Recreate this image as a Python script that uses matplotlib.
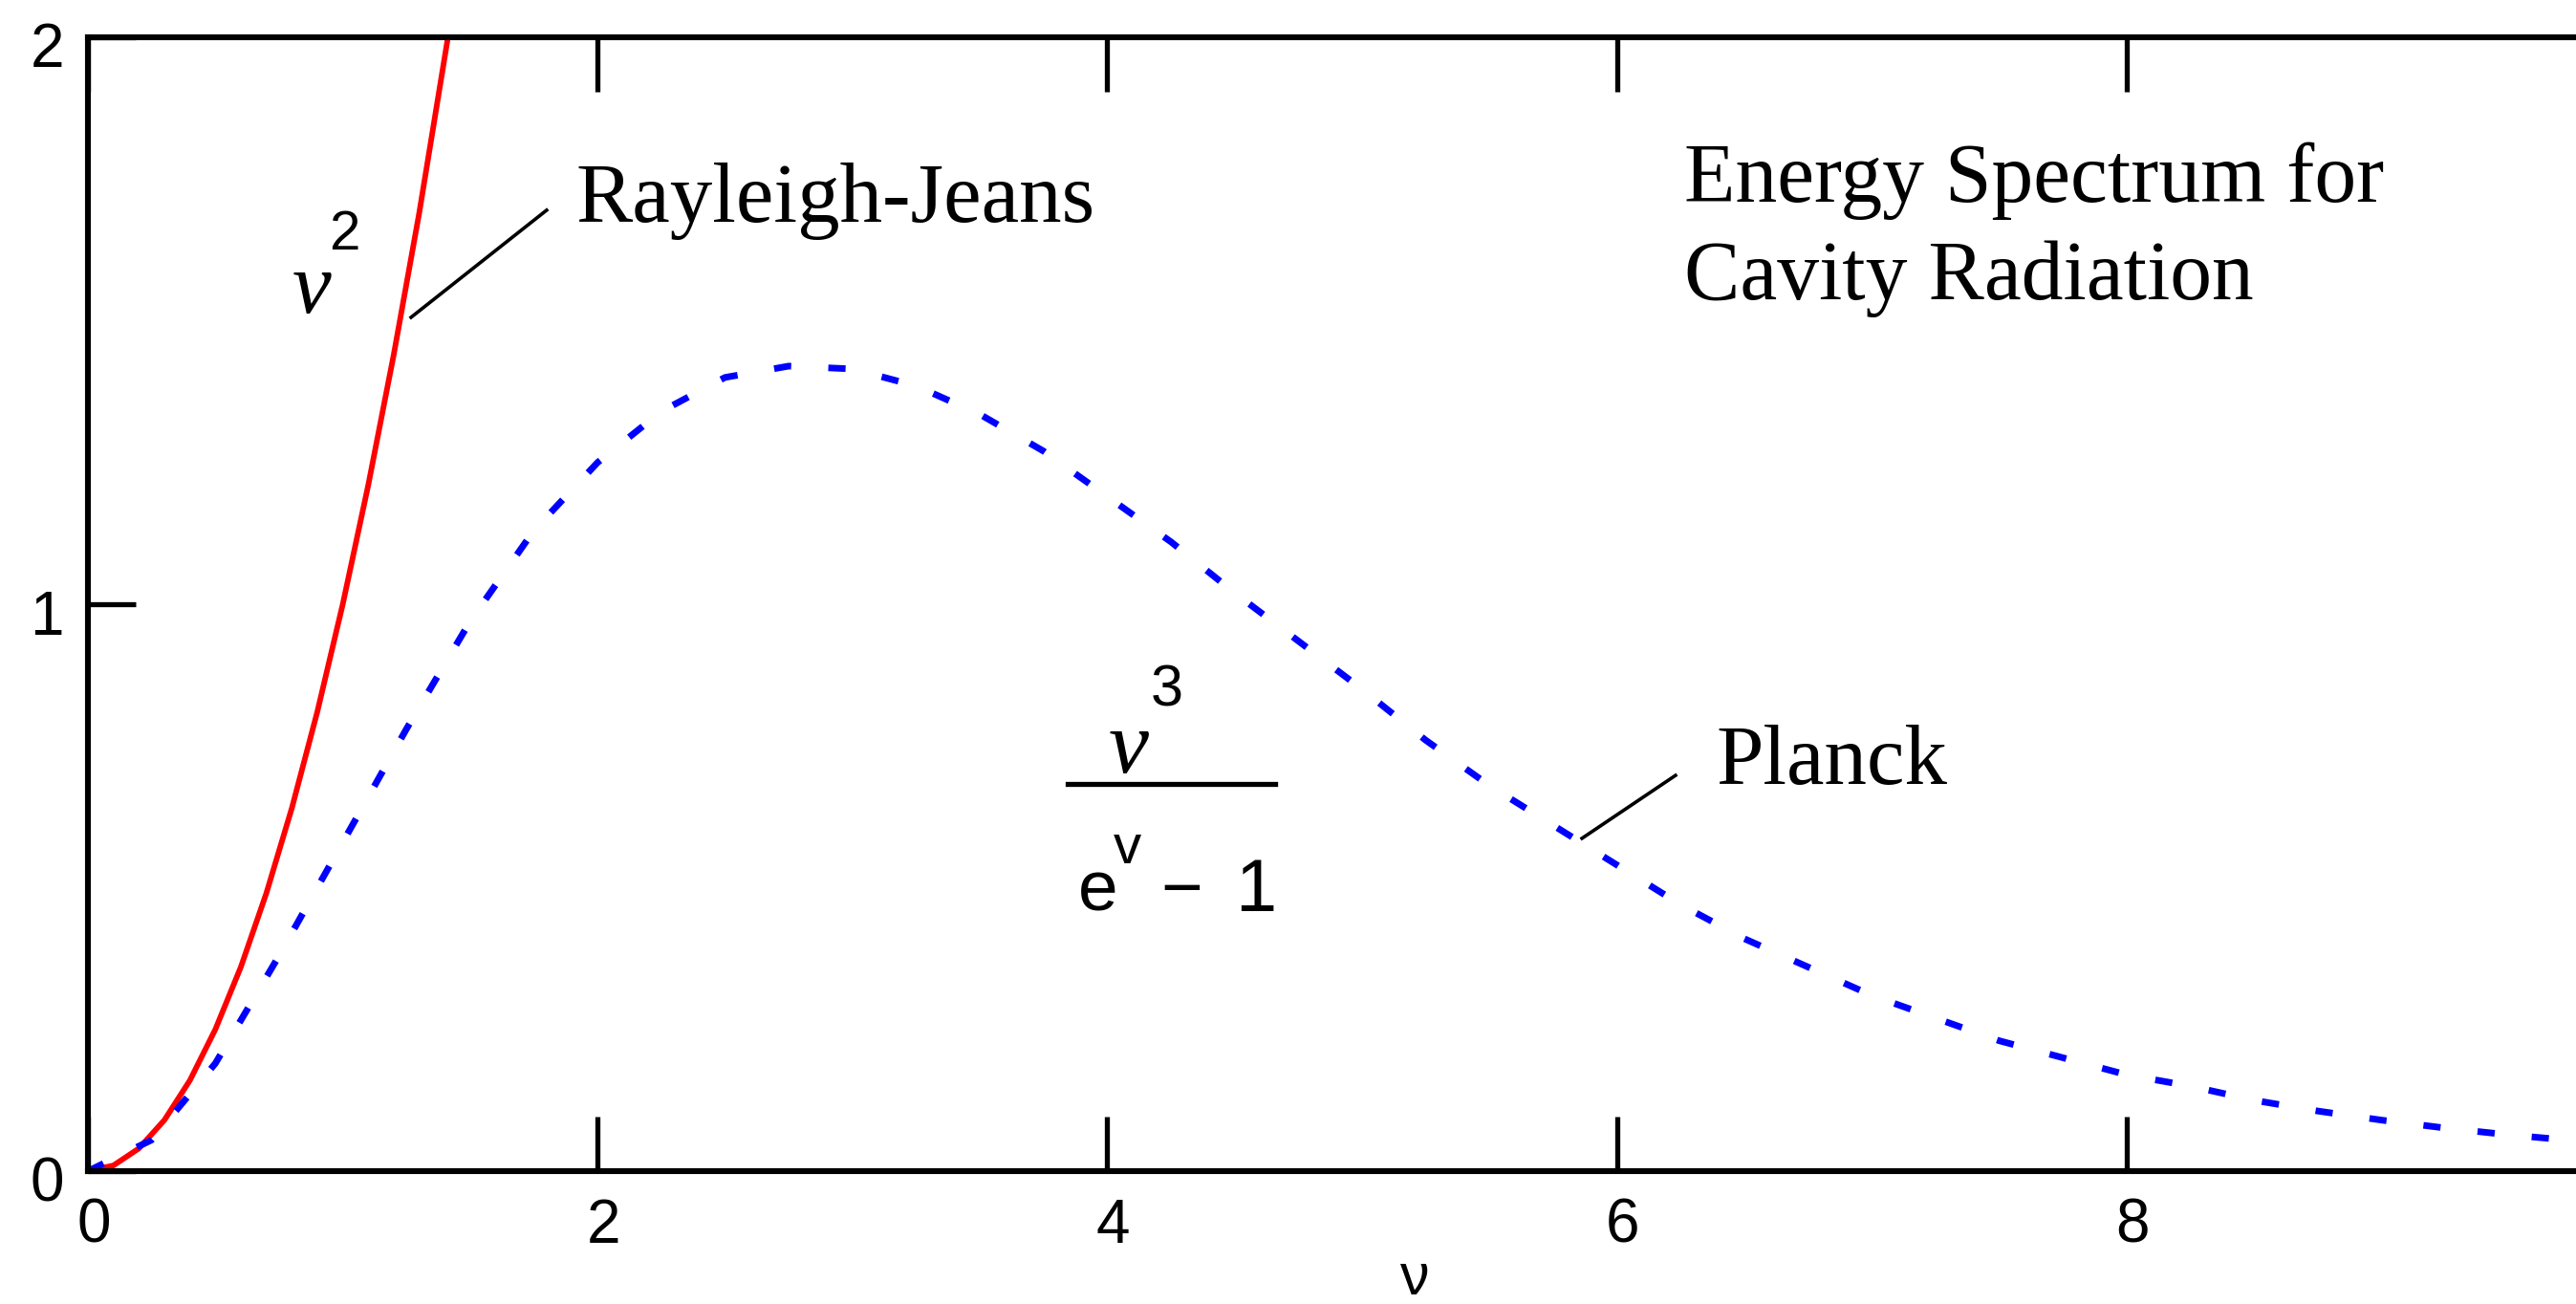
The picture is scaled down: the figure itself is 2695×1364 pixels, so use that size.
import numpy as np
import matplotlib.pyplot as plt
from matplotlib.transforms import ScaledTranslation

# Rayleigh-Jeans curve (solid red)
nu_rj = [0.0, 0.1, 0.2, 0.3, 0.4, 0.5, 0.6, 0.7, 0.8, 0.9, 1.0, 1.1, 1.2, 1.3, 1.42]
u_rj = [0.0, 0.01, 0.04, 0.09, 0.16, 0.25, 0.36, 0.49, 0.64, 0.81, 1.0, 1.21, 1.44, 1.69, 2.02]

# Planck curve (dotted blue)
nu_pl = [0.0, 0.25, 0.5, 0.75, 1.0, 1.25, 1.5, 1.75, 2.0, 2.25, 2.5, 2.75, 3.0, 3.25,
         3.5, 3.75, 4.0, 4.25, 4.5, 4.75, 5.0, 5.25, 5.5, 5.75, 6.0, 6.25, 6.5, 6.75,
         7.0, 7.25, 7.5, 7.75, 8.0, 8.25, 8.5, 8.75, 9.0, 9.25, 9.5, 9.75, 10.0]
u_pl = [0.0, 0.055, 0.19, 0.38, 0.58, 0.78, 0.97, 1.13, 1.25, 1.34, 1.40, 1.42, 1.415, 1.385,
        1.335, 1.27, 1.19, 1.11, 1.02, 0.935, 0.85, 0.76, 0.68, 0.61, 0.54, 0.47, 0.41, 0.36,
        0.31, 0.27, 0.23, 0.20, 0.17, 0.15, 0.125, 0.106, 0.09, 0.076, 0.064, 0.054, 0.045]

xticks = [0, 2, 4, 6, 8]
yticks = [0, 1, 2]

W, H = 2695, 1364
fig = plt.figure(figsize=(W / 100, H / 100), dpi=100)
# axes run past the right edge of the figure (x = 10 is off-canvas)
ax = fig.add_axes([92 / W, 1 - 1225 / H, 2666 / W, (1225 - 39) / H])

ax.plot(nu_rj, u_rj, color='#ff0000', lw=4.2, solid_capstyle='butt')
ax.plot(nu_pl, u_pl, color='#0000ff', lw=5.0, dashes=(2.6, 5.6))

ax.set_xlim(0, 10)
ax.set_ylim(0, 2)

sans = 'Liberation Sans'
serif = 'Liberation Serif'

ax.set_xticks(xticks)
ax.set_xticklabels([str(t) for t in xticks], family=sans, fontsize=46)
ax.set_yticks(yticks)
ax.set_yticklabels([str(t) for t in yticks], family=sans, fontsize=46)
ax.tick_params(axis='x', direction='in', length=41, width=3.8, pad=20,
               top=True, bottom=True)
ax.tick_params(axis='y', direction='in', length=36, width=3.8, pad=18,
               left=True, right=False)
for s in ax.spines.values():
    s.set_linewidth(4.4)
    s.set_color('black')

# nudge tick labels a little (x right, y down)
for lab in ax.get_xticklabels():
    lab.set_transform(lab.get_transform() + ScaledTranslation(6 / 100, 0, fig.dpi_scale_trans))
for lab in ax.get_yticklabels():
    lab.set_transform(lab.get_transform() + ScaledTranslation(0, -8 / 100, fig.dpi_scale_trans))

# labels and leaders
ax.text(1.913, 1.675, 'Rayleigh-Jeans', family=serif, fontsize=64, va='baseline')
ax.plot([1.268, 1.80], [1.506, 1.695], color='black', lw=2.6)
ax.text(0.80, 1.514, 'ν', family=serif, style='italic', fontsize=66, va='baseline')
ax.text(0.945, 1.626, '2', family=sans, fontsize=42, va='baseline')

ax.text(6.39, 0.683, 'Planck', family=serif, fontsize=64, va='baseline')
ax.plot([5.863, 6.23], [0.587, 0.698], color='black', lw=2.6)

ax.text(6.264, 1.71, 'Energy Spectrum for', family=serif, fontsize=63, va='baseline')
ax.text(6.264, 1.538, 'Cavity Radiation', family=serif, fontsize=63, va='baseline')

# nu^3 / (e^nu - 1)
ax.text(4.005, 0.703, 'ν', family=serif, style='italic', fontsize=68, va='baseline')
ax.text(4.17, 0.82, '3', family=sans, fontsize=44, va='baseline')
ax.plot([3.845, 4.659], [0.683, 0.683], color='black', lw=3.8)
ax.text(3.885, 0.459, 'e', family=sans, fontsize=54, va='baseline')
ax.text(4.025, 0.543, 'v', family=sans, fontsize=42, va='baseline')
ax.text(4.21, 0.459, '\u2212', family=sans, fontsize=54, va='baseline')
ax.text(4.50, 0.459, '1', family=sans, fontsize=56, va='baseline')

# axis label, sitting at the bottom edge
fig.text(1480 / W, 1 - 1354 / H, 'ν', family=sans, fontsize=44,
         ha='center', va='baseline')

fig.savefig('out.png', dpi=100)
